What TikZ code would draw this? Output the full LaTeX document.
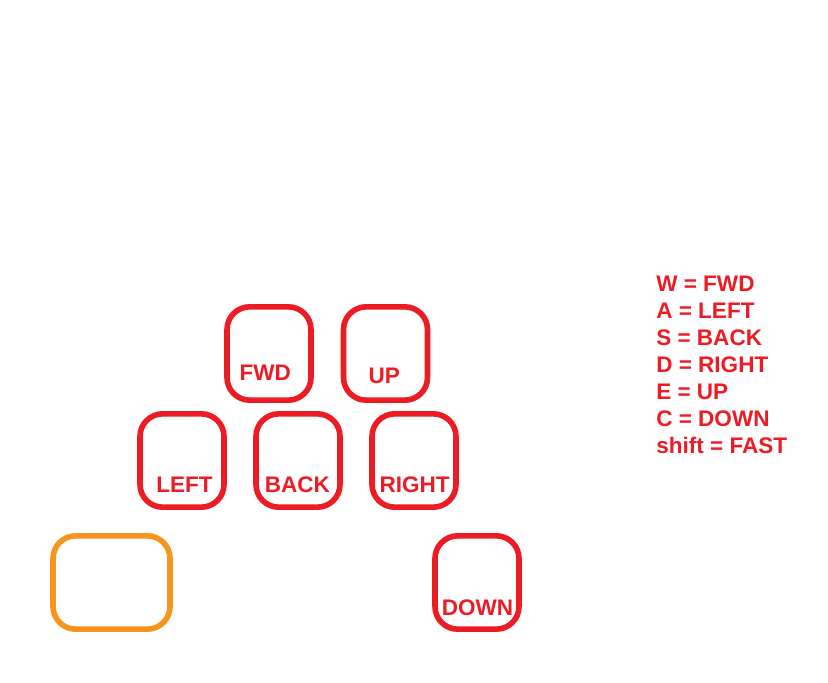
\documentclass[tikz,border=0pt]{standalone}
\usepackage{fontspec}
\setmainfont{Liberation Sans}
\usepackage{xcolor}
\definecolor{keyred}{RGB}{237,28,36}
\definecolor{keyorange}{RGB}{247,148,30}

\begin{document}
\begin{tikzpicture}[x=0.75pt,y=0.75pt,yscale=-1,xscale=1,
  key/.style={draw=keyred, line width=4.2pt, rounded corners=17pt, minimum width=63pt, minimum height=70pt, inner sep=0pt},
  keytxt/.style={text=keyred, font=\fontsize{16.9}{20}\selectfont\bfseries, anchor=base, inner sep=0pt},
  legtxt/.style={text=keyred, font=\fontsize{16.9}{20}\selectfont\bfseries, anchor=base west, inner sep=0pt}]
\useasboundingbox (0,0) rectangle (828,682);

%Shape: Rounded Rect [id:fwd]
\node[key] (fwd) at (269,353.5) {};
%Shape: Rounded Rect [id:up]
\node[key] (up) at (385.5,353.5) {};
%Shape: Rounded Rect [id:left]
\node[key] (left) at (182,460.5) {};
%Shape: Rounded Rect [id:back]
\node[key] (back) at (298,460.5) {};
%Shape: Rounded Rect [id:right]
\node[key] (right) at (414,460.5) {};
%Shape: Rounded Rect [id:down]
\node[key] (down) at (477,582.5) {};
%Shape: Rounded Rect [id:shift]
\node[key, draw=keyorange, minimum width=87.75pt] (shift) at (111.5,582.5) {};

% Text Node
\node[keytxt] (fwdtxt) at (265.3,380.7) {FWD};
% Text Node
\node[keytxt] (uptxt) at (384.3,383.3) {UP};
% Text Node
\node[keytxt] (lefttxt) at (184.5,492.3) {LEFT};
% Text Node
\node[keytxt] (backtxt) at (297.3,492.3) {BACK};
% Text Node
\node[keytxt] (righttxt) at (414.7,492.3) {RIGHT};
% Text Node
\node[keytxt] (downtxt) at (477.5,615) {DOWN};

% Text Node
\node[legtxt] (legw) at (656,291.7) {W = FWD};
% Text Node
\node[legtxt] (lega) at (656,318.6) {A = LEFT};
% Text Node
\node[legtxt] (legs) at (656,345.5) {S = BACK};
% Text Node
\node[legtxt] (legd) at (656,372.4) {D = RIGHT};
% Text Node
\node[legtxt] (lege) at (656,399.3) {E = UP};
% Text Node
\node[legtxt] (legc) at (656,426.2) {C = DOWN};
% Text Node
\node[legtxt] (legshift) at (656,453.1) {shift = FAST};

\end{tikzpicture}
\end{document}
